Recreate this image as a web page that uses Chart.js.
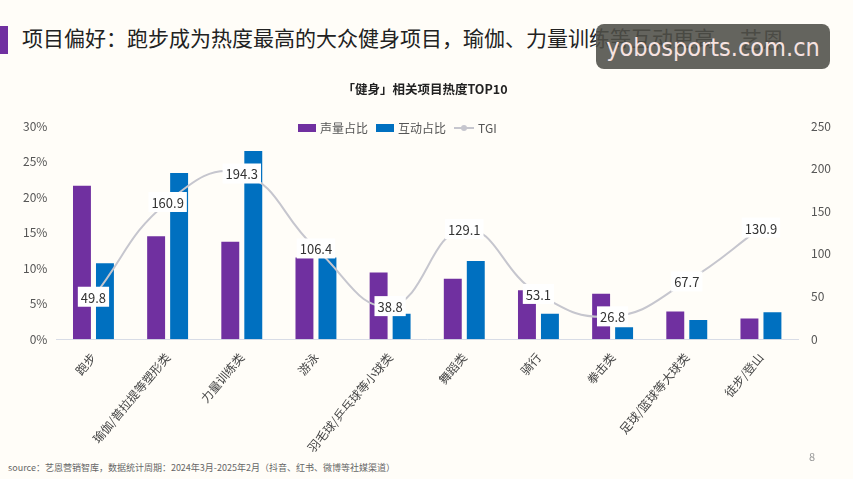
<!DOCTYPE html>
<html>
<head>
<meta charset="utf-8">
<script src="https://cdn.jsdelivr.net/npm/chart.js@4"></script>
<style>
  body{margin:0;width:853px;height:479px;background:#fffdf8;position:relative;overflow:hidden;font-family:"Noto Sans CJK SC","Noto Sans",sans-serif;}
  .bar{position:absolute;left:0;top:26px;width:8px;height:28px;background:#7030a0;}
  .head{position:absolute;left:22px;top:22px;font-size:21px;color:#222;white-space:nowrap;}
  .logo{position:absolute;left:740px;top:22px;font-size:22px;color:#333;}
  .mark{position:absolute;left:596px;top:24px;width:234px;height:45px;border-radius:8px;background:rgba(78,78,72,0.88);color:#f6e2e0;font-family:"DejaVu Sans Condensed","Liberation Sans Narrow",sans-serif;font-size:25px;line-height:47px;text-align:center;}
  .src{position:absolute;left:8px;top:461px;font-size:9px;color:#666;}
  .pg{position:absolute;left:809px;top:448px;font-size:11px;color:#999;}
  #wrap{position:absolute;left:0;top:73px;width:853px;height:385px;}
  .legend{position:absolute;left:298px;top:119px;font-size:12px;color:#555;white-space:nowrap;display:flex;align-items:center;}
  .legend i{display:inline-block;width:18px;height:8px;margin-right:4px;}
  .legend span{margin-right:8px;}
  .legend b{display:inline-block;width:20px;height:2px;background:#c6c6ce;margin-right:4px;position:relative;}
  .legend b:after{content:"";position:absolute;left:7px;top:-2px;width:6px;height:6px;border-radius:3px;background:#c6c6ce;}
</style>
</head>
<body>
<div class="bar"></div>
<div class="head">项目偏好：跑步成为热度最高的大众健身项目，瑜伽、力量训练等互动更高</div>
<div class="logo">艺恩</div>
<div class="mark">yobosports.com.cn</div>
<div id="wrap"><canvas id="c"></canvas></div>
<div class="legend"><i style="background:#7030a0"></i><span>声量占比</span><i style="background:#0070c0"></i><span>互动占比</span><b></b><span>TGI</span></div>
<div class="src">source：艺恩营销智库，数据统计周期：2024年3月-2025年2月（抖音、红书、微博等社媒渠道）</div>
<div class="pg">8</div>
<script>
const categories = ["跑步","瑜伽/普拉提等塑形类","力量训练类","游泳","羽毛球/乒乓球等小球类","舞蹈类","骑行","拳击类","足球/篮球等大球类","徒步/登山"];
const volumeShare = [21.6,14.5,13.7,11.5,9.4,8.5,6.9,6.4,3.9,2.9];
const engageShare = [10.7,23.4,26.5,11.5,3.6,11.0,3.6,1.7,2.7,3.8];
const tgi = [49.8,160.9,194.3,106.4,38.8,129.1,53.1,26.8,67.7,130.9];

const FONT = '"Noto Sans CJK SC","Noto Sans",sans-serif';

// white boxed value labels on the TGI line
const tgiLabels = {
  id: "tgiLabels",
  afterDatasetsDraw(chart){
    const meta = chart.getDatasetMeta(2);
    const ctx = chart.ctx;
    ctx.save();
    ctx.font = "13px " + FONT;
    ctx.textAlign = "center";
    ctx.textBaseline = "middle";
    meta.data.forEach((pt, i)=>{
      const txt = tgi[i].toFixed(1);
      const w = ctx.measureText(txt).width + 6;
      ctx.fillStyle = "#ffffff";
      ctx.fillRect(pt.x - w/2, pt.y - 10, w, 20);
      ctx.fillStyle = "#333";
      ctx.fillText(txt, pt.x, pt.y + 1);
    });
    ctx.restore();
  }
};

new Chart(document.getElementById("c"), {
  data: {
    labels: categories,
    datasets: [
      {type:"bar", label:"声量占比", data: volumeShare, backgroundColor:"#7030a0", yAxisID:"y", order:2,
       categoryPercentage:0.62, barPercentage:0.78},
      {type:"bar", label:"互动占比", data: engageShare, backgroundColor:"#0070c0", yAxisID:"y", order:2,
       categoryPercentage:0.62, barPercentage:0.78},
      {type:"line", label:"TGI", data: tgi, borderColor:"#c6c6ce", backgroundColor:"#c6c6ce", borderWidth:2,
       tension:0.45, pointRadius:0, yAxisID:"y2", order:1}
    ]
  },
  plugins: [tgiLabels],
  options: {
    responsive: true,
    maintainAspectRatio: false,
    animation: false,
    layout: {padding: {left: 14, right: 17, top: 0, bottom: 0}},
    plugins: {
      title: {display:true, text:"「健身」相关项目热度TOP10", color:"#222",
              font:{family:FONT, size:12.5, weight:"bold"}, padding:{top:9, bottom:29}},
      legend: {display:false},
      tooltip: {enabled:false}
    },
    scales: {
      x: {grid:{display:false}, border:{color:"#d8dce6"},
          ticks:{color:"#444", font:{family:FONT, size:12}, minRotation:50, maxRotation:50, autoSkip:false}},
      y: {position:"left", min:0, max:30, grid:{display:false, drawTicks:false}, border:{display:false},
          ticks:{stepSize:5, color:"#555", font:{family:FONT, size:12}, padding:9, callback:v=>v+"%"}},
      y2: {position:"right", min:0, max:250, grid:{display:false}, border:{display:false},
          ticks:{stepSize:50, color:"#555", font:{family:FONT, size:12}, padding:5}}
    }
  }
});
</script>
</body>
</html>
